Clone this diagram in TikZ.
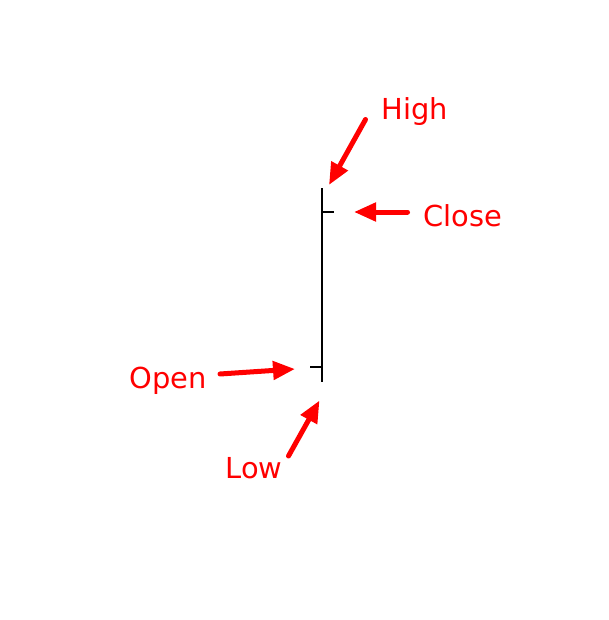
\documentclass[tikz,border=0pt]{standalone}
\usepackage{fontspec}
\setmainfont{DejaVu Sans}
\usetikzlibrary{arrows.meta}
\begin{document}
\begin{tikzpicture}[x=1bp,y=-1bp,
  lbl/.style={text=red, font=\fontsize{29}{34}\selectfont, anchor=base, inner sep=0pt},
  bar/.style={line width=1.6bp, black},
  ptr/.style={red, line width=5bp, line cap=round, -{Triangle[length=22bp,width=18bp]}}]
\useasboundingbox (0,0) rectangle (609,620);
% OHLC bar
\coordinate (hi) at (322,188);
\coordinate (lo) at (322,382);
\coordinate (cl) at (333.5,212);
\coordinate (clb) at (322,212);
\coordinate (op) at (310,367);
\coordinate (opb) at (322,367);
\draw[bar] (hi) -- (lo);
\draw[bar] (clb) -- (cl);
\draw[bar] (op) -- (opb);
% labels
\node[lbl] (high) at (415,119.5) {High};
\node[lbl] (close) at (463,226.5) {Close};
\node[lbl] (open) at (168,388.5) {Open};
\node[lbl] (low) at (254,478.5) {Low};
% arrow ends
\coordinate (hT) at (365.5,119.5);
\coordinate (hH) at (329,185);
\coordinate (cT) at (407.5,212);
\coordinate (cH) at (354,212);
\coordinate (oT) at (220,374);
\coordinate (oH) at (295,369);
\coordinate (lT) at (288.5,456);
\coordinate (lH) at (319.5,400.5);
\draw[ptr] (hT) -- (hH);
\draw[ptr] (cT) -- (cH);
\draw[ptr] (oT) -- (oH);
\draw[ptr] (lT) -- (lH);
\end{tikzpicture}
\end{document}
